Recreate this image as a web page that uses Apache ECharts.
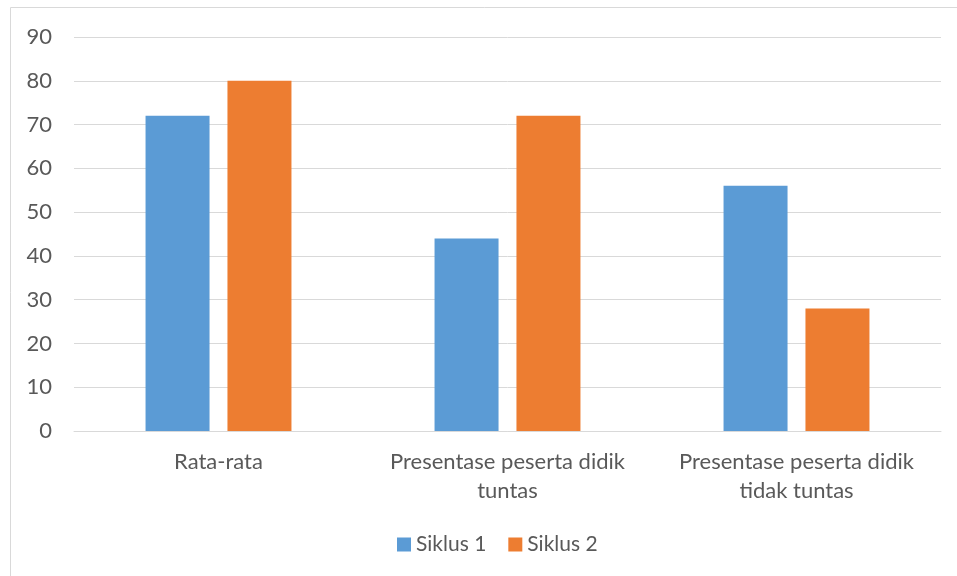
<!DOCTYPE html>
<html>
<head>
<meta charset="utf-8">
<script src="https://cdn.jsdelivr.net/npm/echarts@6/dist/echarts.min.js"></script>
<style>
  html, body { margin: 0; padding: 0; background: #fff; }
  #main { width: 957px; height: 576px; }
</style>
</head>
<body>
<div id="main"></div>
<script>
var categories = ['Rata-rata', 'Presentase peserta didik\ntuntas', 'Presentase peserta didik\ntidak tuntas'];
var siklus1 = [72, 44, 56];
var siklus2 = [80, 72, 28];

var chart = echarts.init(document.getElementById('main'));
var font = 'Lato, "Open Sans", sans-serif';

chart.setOption({
    animation: false,
    textStyle: { fontFamily: font },
    graphic: [{
        type: 'rect',
        shape: { x: 10.5, y: 7.5, width: 1000, height: 700 },
        style: { fill: 'none', stroke: '#d9d9d9', lineWidth: 1 },
        silent: true
    }],
    legend: {
        bottom: 16,
        left: 392,
        itemWidth: 14,
        itemHeight: 14,
        itemGap: 22,
        icon: 'rect',
        textStyle: { fontSize: 21, color: '#595959', fontFamily: font },
        data: ['Siklus 1', 'Siklus 2']
    },
    grid: { left: 74, right: 16, top: 37, bottom: 145, containLabel: false },
    xAxis: {
        type: 'category',
        data: categories,
        axisLine: { lineStyle: { color: '#d9d9d9', width: 1 } },
        axisTick: { show: false },
        axisLabel: {
            interval: 0,
            hideOverlap: false,
            fontSize: 22,
            color: '#595959',
            lineHeight: 29,
            margin: 16,
            fontFamily: font
        }
    },
    yAxis: {
        type: 'value',
        min: 0,
        max: 90,
        interval: 10,
        axisLine: { show: false },
        axisTick: { show: false },
        splitLine: { lineStyle: { color: '#d9d9d9', width: 1 } },
        axisLabel: { fontSize: 22, color: '#595959', margin: 22, fontFamily: font }
    },
    series: [{
        name: 'Siklus 1',
        type: 'bar',
        data: siklus1,
        barWidth: 64,
        barGap: '28%',
        itemStyle: { color: '#5b9bd5' }
    }, {
        name: 'Siklus 2',
        type: 'bar',
        data: siklus2,
        barWidth: 64,
        itemStyle: { color: '#ed7d31' }
    }]
});
</script>
</body>
</html>
